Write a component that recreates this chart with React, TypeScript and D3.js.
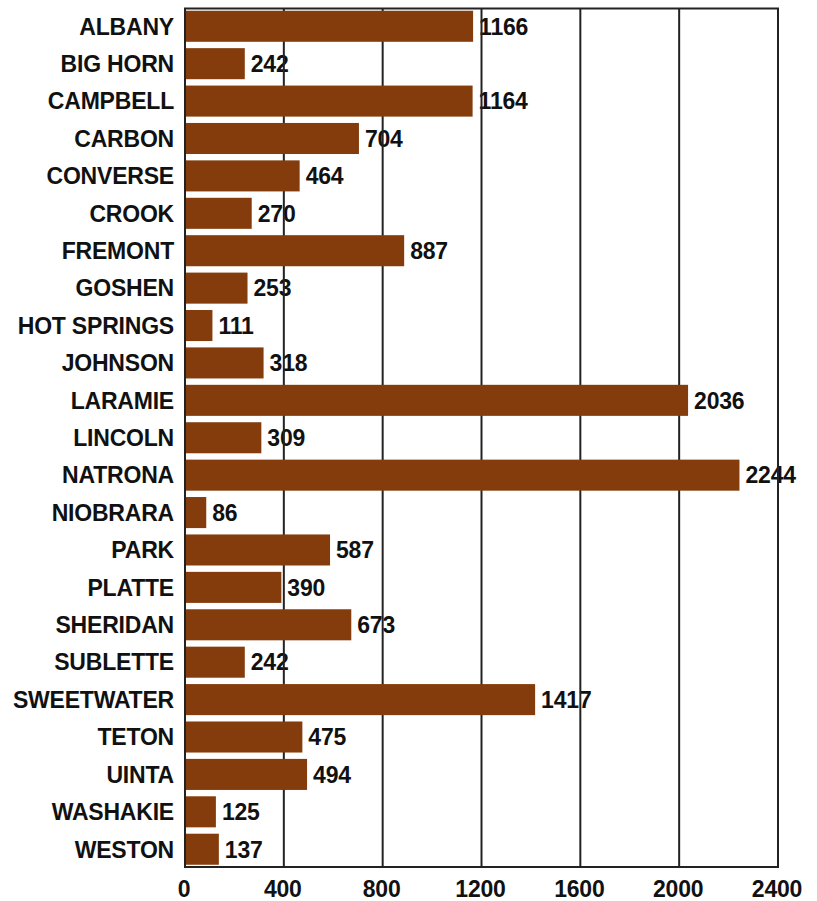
import React from 'react';
import * as d3 from 'd3';

const counties = [
  'ALBANY', 'BIG HORN', 'CAMPBELL', 'CARBON', 'CONVERSE', 'CROOK', 'FREMONT', 'GOSHEN',
  'HOT SPRINGS', 'JOHNSON', 'LARAMIE', 'LINCOLN', 'NATRONA', 'NIOBRARA', 'PARK', 'PLATTE',
  'SHERIDAN', 'SUBLETTE', 'SWEETWATER', 'TETON', 'UINTA', 'WASHAKIE', 'WESTON',
];
const counts = [
  1166, 242, 1164, 704, 464, 270, 887, 253,
  111, 318, 2036, 309, 2244, 86, 587, 390,
  673, 242, 1417, 475, 494, 125, 137,
];
const xTicks = [0, 400, 800, 1200, 1600, 2000, 2400];

const W = 817;
const H = 901;
const font = '"Liberation Sans", Arial, sans-serif';
const fs = 23;
const ls = -0.2;
const barColor = '#843c0c';
const lineColor = '#222';

export default function App() {
  const box = { left: 185, right: 778, top: 8.5, bottom: 867 };

  const x = d3.scaleLinear().domain([0, 2400]).range([box.left, box.right]);
  const y = d3.scaleBand<string>()
    .domain(counties)
    .range([box.top, box.bottom])
    .paddingInner(0.17)
    .paddingOuter(0.06);

  const rows = counties.map((c, i) => ({ c, v: counts[i] }));

  return (
    <svg width={W} height={H} style={{ position: 'absolute', left: 0, top: 0, background: '#fff' }}
      fontFamily={font} fontWeight="bold" letterSpacing={ls}>
      {/* value labels sit under the grid lines */}
      {rows.map(d => (
        <text key={'v' + d.c} x={x(d.v) + 6} y={(y(d.c) as number) + y.bandwidth() / 2}
          dy="0.36em" fontSize={fs} fill="#111">{d.v}</text>
      ))}
      {xTicks.map(t => (
        <line key={'g' + t} x1={x(t)} x2={x(t)} y1={box.top} y2={box.bottom}
          stroke={lineColor} strokeWidth={2} />
      ))}
      {rows.map(d => (
        <rect key={'b' + d.c} x={x(0)} y={y(d.c)} width={x(d.v) - x(0)} height={y.bandwidth()}
          fill={barColor} />
      ))}
      <rect x={box.left} y={box.top} width={box.right - box.left} height={box.bottom - box.top}
        fill="none" stroke={lineColor} strokeWidth={2} />
      {counties.map(c => (
        <text key={'c' + c} x={174} y={(y(c) as number) + y.bandwidth() / 2} dy="0.36em"
          textAnchor="end" fontSize={fs} fill="#111">{c}</text>
      ))}
      {xTicks.map(t => (
        <text key={'t' + t} x={x(t) - 1} y={889} dy="0.36em" textAnchor="middle"
          fontSize={fs} fill="#111">{t}</text>
      ))}
    </svg>
  );
}
